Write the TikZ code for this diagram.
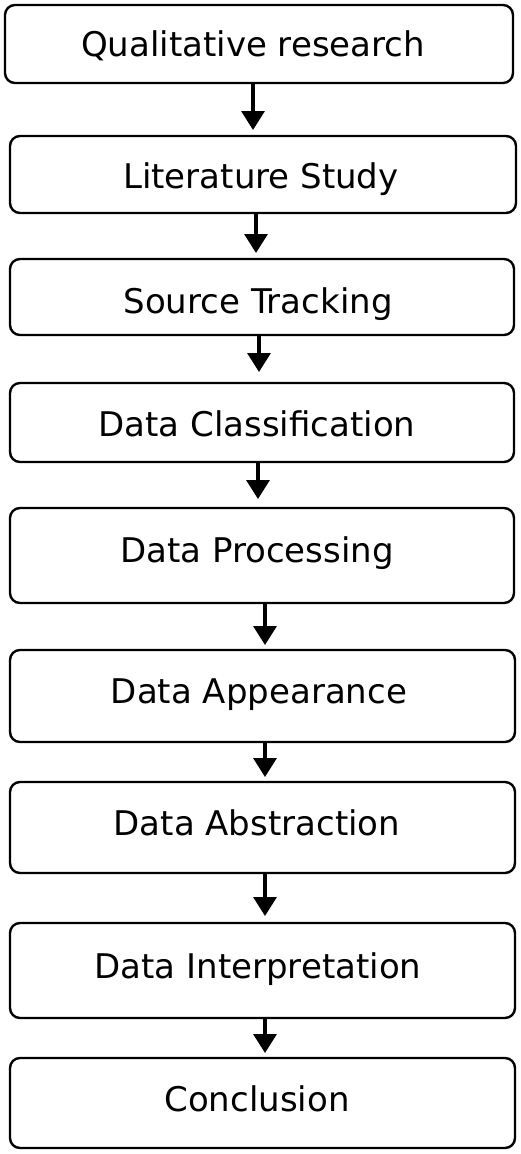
\documentclass[tikz,border=0pt]{standalone}
\usepackage{fontspec}
\setmainfont{DejaVu Sans}
\usetikzlibrary{arrows.meta}
\begin{document}
\begin{tikzpicture}[x=1pt,y=-1pt,
  stepbox/.style={draw=black,line width=2.4pt,rounded corners=10pt},
  lbl/.style={anchor=base,inner sep=0pt,font=\fontsize{34}{40}\selectfont},
  arr/.style={line width=3.4pt,-{Triangle[width=23pt,length=19pt]},shorten <=-1pt}]
\useasboundingbox (0,0) rectangle (520,1154);
% boxes
\node[stepbox,minimum width=508pt,minimum height=78pt] (b1) at (259,44) {};
\node[stepbox,minimum width=506pt,minimum height=77pt] (b2) at (263,174.5) {};
\node[stepbox,minimum width=504pt,minimum height=76pt] (b3) at (262,297) {};
\node[stepbox,minimum width=504pt,minimum height=79pt] (b4) at (262,422.5) {};
\node[stepbox,minimum width=504pt,minimum height=95pt] (b5) at (262,555.5) {};
\node[stepbox,minimum width=505pt,minimum height=92pt] (b6) at (262.5,696) {};
\node[stepbox,minimum width=505pt,minimum height=91pt] (b7) at (262.5,827.5) {};
\node[stepbox,minimum width=505pt,minimum height=95pt] (b8) at (262.5,970.5) {};
\node[stepbox,minimum width=505pt,minimum height=90pt] (b9) at (262.5,1103) {};
% labels
\node[lbl] (l1) at (253,56) {Qualitative research};
\node[lbl] (l2) at (261,188) {Literature Study};
\node[lbl] (l3) at (258,313) {Source Tracking};
\node[lbl] (l4) at (257,436) {Data Classification};
\node[lbl] (l5) at (257,562) {Data Processing};
\node[lbl] (l6) at (259,703) {Data Appearance};
\node[lbl] (l7) at (257,835) {Data Abstraction};
\node[lbl] (l8) at (258,978) {Data Interpretation};
\node[lbl] (l9) at (257,1111) {Conclusion};
% arrow tips
\coordinate (t1) at (253,130);
\coordinate (t2) at (256,253);
\coordinate (t3) at (259,372);
\coordinate (t4) at (258,499);
\coordinate (t5) at (265,645);
\coordinate (t6) at (265,777);
\coordinate (t7) at (265,916);
\coordinate (t8) at (265,1053);
\draw[arr] (b1.south -| t1) -- (t1);
\draw[arr] (b2.south -| t2) -- (t2);
\draw[arr] (b3.south -| t3) -- (t3);
\draw[arr] (b4.south -| t4) -- (t4);
\draw[arr] (b5.south -| t5) -- (t5);
\draw[arr] (b6.south -| t6) -- (t6);
\draw[arr] (b7.south -| t7) -- (t7);
\draw[arr] (b8.south -| t8) -- (t8);
\end{tikzpicture}
\end{document}
